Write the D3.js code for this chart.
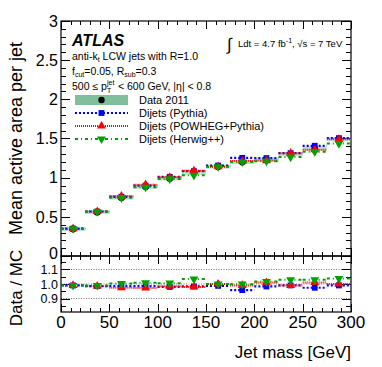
<!DOCTYPE html>
<html>
<head>
<meta charset="utf-8">
<script src="https://cdn.jsdelivr.net/npm/d3@7/dist/d3.min.js"></script>
<style>
  html, body { margin: 0; padding: 0; background: #fff; }
  svg { display: block; font-family: "Liberation Sans", Arial, sans-serif; }
</style>
</head>
<body>
<svg id="chart" width="382" height="367"></svg>
<script>
// bins of jet mass [GeV], 25 GeV wide
const binLow = [0, 25, 50, 75, 100, 125, 150, 175, 200, 225, 250, 275];
const binWidth = 25;

// mean active area per jet
const data2011 = [0.345, 0.56, 0.745, 0.885, 0.99, 1.065, 1.14, 1.20, 1.23, 1.30, 1.37, 1.49];
const pythia   = [0.35, 0.568, 0.756, 0.898, 1.01, 1.083, 1.155, 1.253, 1.25, 1.313, 1.407, 1.505];
const powheg   = [0.348, 0.568, 0.765, 0.91, 1.005, 1.088, 1.14, 1.212, 1.218, 1.313, 1.356, 1.49];
const herwig   = [0.348, 0.565, 0.743, 0.878, 0.984, 1.03, 1.14, 1.20, 1.21, 1.263, 1.331, 1.435];

// Data / MC
const ratioPythia = [0.99, 0.985, 0.985, 0.985, 0.98, 0.983, 0.987, 0.958, 0.983, 0.99, 0.974, 0.99];
const ratioPowheg = [0.99, 0.985, 0.974, 0.972, 0.985, 0.979, 1.0, 0.99, 1.01, 0.99, 1.01, 1.0];
const ratioHerwig = [0.99, 0.99, 1.003, 1.008, 1.006, 1.034, 1.0, 0.999, 1.017, 1.029, 1.029, 1.038];

const xTicks = [0, 50, 100, 150, 200, 250, 300];
const yTicks = [0, 0.5, 1, 1.5, 2, 2.5, 3];
const rTicks = [0.9, 1.0, 1.1];

const svg = d3.select("#chart");

const L = 61, R = 351, T = 21, MB = 256, RB = 312;

const x = d3.scaleLinear().domain([0, 300]).range([L, R]);
const y = d3.scaleLinear().domain([0, 3]).range([MB, T]);
const yr = d3.scaleLinear().domain([0.807, 1.193]).range([RB, MB]);

const series = [
  { name: "Dijets (Pythia)", main: pythia, ratio: ratioPythia, color: "#0000ff", dash: "2,2", width: 2.2, symbol: d3.symbolSquare, size: 34, rot: 0 },
  { name: "Dijets (POWHEG+Pythia)", main: powheg, ratio: ratioPowheg, color: "#ff0000", dash: "1,1", width: 2, symbol: d3.symbolTriangle, size: 34, rot: 0 },
  { name: "Dijets (Herwig++)", main: herwig, ratio: ratioHerwig, color: "#00a000", dash: "3,3,1,3", width: 2, symbol: d3.symbolTriangle, size: 34, rot: 180 },
];

const bandColor = "#7fbf9c";

// ---------- frames and ticks ----------
function drawFrame(top, bottom, ys, yTickVals, yMinorStep, labels) {
  const g = svg.append("g");
  g.append("rect").attr("x", L).attr("y", top).attr("width", R - L).attr("height", bottom - top)
    .attr("fill", "none").attr("stroke", "#000").attr("stroke-width", 1.2);

  // x ticks top & bottom
  for (let v = 0; v <= 300; v += 10) {
    const major = v % 50 === 0;
    const len = major ? 8 : 4;
    const px = Math.round(x(v)) + 0.5;
    g.append("line").attr("x1", px).attr("x2", px).attr("y1", bottom).attr("y2", bottom - len).attr("stroke", "#000");
    g.append("line").attr("x1", px).attr("x2", px).attr("y1", top).attr("y2", top + len).attr("stroke", "#000");
  }
  // y ticks left & right
  const [d0, d1] = ys.domain();
  const start = Math.ceil(d0 / yMinorStep - 1e-6) * yMinorStep;
  for (let v = start; v <= d1 + 1e-9; v += yMinorStep) {
    const major = yTickVals.some(t => Math.abs(t - v) < 1e-6);
    const len = major ? 9 : 5;
    const py = Math.round(ys(v)) + 0.5;
    g.append("line").attr("x1", L).attr("x2", L + len).attr("y1", py).attr("y2", py).attr("stroke", "#000");
    g.append("line").attr("x1", R).attr("x2", R - len).attr("y1", py).attr("y2", py).attr("stroke", "#000");
  }
  g.selectAll("text.ylab").data(yTickVals).join("text")
    .attr("x", L - 3).attr("y", d => ys(d))
    .attr("dy", d => (labels.lowNudge && d === yTickVals[0]) ? "0.2em" : "0.36em")
    .attr("text-anchor", "end")
    .attr("font-size", labels.size)
    .text(labels.fmt);
  return g;
}

drawFrame(T, MB, y, yTicks, 0.1, { size: 16, lowNudge: true, fmt: d => d3.format("~g")(d) });

// ratio reference lines
svg.append("g").selectAll("line").data(rTicks).join("line")
  .attr("x1", L).attr("x2", R)
  .attr("y1", d => yr(d)).attr("y2", d => yr(d))
  .attr("stroke", "#777").attr("stroke-width", 1).attr("stroke-dasharray", "1,1.5");

drawFrame(MB, RB, yr, rTicks, 0.05, { size: 12.5, fmt: d => d3.format(".1f")(d) });

// x tick labels
svg.append("g").selectAll("text").data(xTicks).join("text")
  .attr("x", d => x(d)).attr("y", 328)
  .attr("text-anchor", "middle").attr("font-size", 17)
  .text(d => d);

// ---------- main panel ----------
const bins = binLow.map((lo, i) => ({ i, lo, hi: lo + binWidth, mid: lo + binWidth / 2 }));

// data systematic band + points
svg.append("g").selectAll("rect").data(bins).join("rect")
  .attr("x", d => x(d.lo)).attr("width", d => x(d.hi) - x(d.lo))
  .attr("y", d => y(data2011[d.i]) - 2).attr("height", 4)
  .attr("fill", bandColor).attr("opacity", 0.5);
svg.append("g").selectAll("circle").data(bins).join("circle")
  .attr("cx", d => x(d.mid)).attr("cy", d => y(data2011[d.i])).attr("r", 3.4).attr("fill", "#000");

function drawSeries(ys, key) {
  series.forEach(s => {
    const vals = s[key];
    const g = svg.append("g");
    g.selectAll("line").data(bins).join("line")
      .attr("x1", d => x(d.lo)).attr("x2", d => x(d.hi))
      .attr("y1", d => ys(vals[d.i])).attr("y2", d => ys(vals[d.i]))
      .attr("stroke", s.color).attr("stroke-width", s.width).attr("stroke-dasharray", s.dash);
    g.selectAll("path").data(bins).join("path")
      .attr("d", d3.symbol().type(s.symbol).size(s.size))
      .attr("transform", d => `translate(${x(d.mid)},${ys(vals[d.i])}) rotate(${s.rot})`)
      .attr("fill", s.color);
  });
}
drawSeries(y, "main");

// ---------- ratio panel ----------
drawSeries(yr, "ratio");

// ---------- labels ----------
svg.append("text").attr("transform", `translate(22,${(T + MB) / 2}) rotate(-90)`)
  .attr("text-anchor", "middle").attr("font-size", 18).text("Mean active area per jet");
svg.append("text").attr("transform", `translate(22,${(MB + RB) / 2 + 4}) rotate(-90)`)
  .attr("text-anchor", "middle").attr("font-size", 17).text("Data / MC");
svg.append("text").attr("x", R).attr("y", 358).attr("text-anchor", "end")
  .attr("font-size", 17).text("Jet mass [GeV]");

// ATLAS & annotations
const ann = svg.append("g").attr("font-size", 10.5);
ann.append("text").attr("x", 72).attr("y", 46).attr("font-size", 16)
  .attr("font-weight", "bold").attr("font-style", "italic").text("ATLAS");
const t1 = ann.append("text").attr("x", 72).attr("y", 60);
t1.append("tspan").text("anti-k");
t1.append("tspan").attr("font-size", 7).attr("dy", 2).text("t");
t1.append("tspan").attr("dy", -2).text(" LCW jets with R=1.0");
const t2 = ann.append("text").attr("x", 72).attr("y", 75);
t2.append("tspan").text("f");
t2.append("tspan").attr("font-size", 7).attr("dy", 2).text("cut");
t2.append("tspan").attr("dy", -2).text("=0.05, R");
t2.append("tspan").attr("font-size", 7).attr("dy", 2).text("sub");
t2.append("tspan").attr("dy", -2).text("=0.3");

// 500 <= pT^jet < 600 GeV line, sup/sub stacked
const t3a = ann.append("text").attr("x", 72).attr("y", 90).text("500 \u2264 p");
const w3 = t3a.node().getComputedTextLength();
ann.append("text").attr("x", 72 + w3).attr("y", 85).attr("font-size", 7).text("jet");
ann.append("text").attr("x", 72 + w3).attr("y", 93).attr("font-size", 7).text("T");
ann.append("text").attr("x", 72 + w3 + 11).attr("y", 90).text("< 600 GeV, |\u03b7| < 0.8");

const lumi = svg.append("g").attr("font-size", 9.5);
lumi.append("text").attr("x", 227).attr("y", 50).attr("font-size", 17).text("\u222b");
const lt = lumi.append("text").attr("x", 238).attr("y", 47);
lt.append("tspan").text("Ldt = 4.7 fb");
lt.append("tspan").attr("font-size", 7).attr("dy", -4).text("-1");
lt.append("tspan").attr("dy", 4).text(", \u221as = 7 TeV");

// legend
const legY = [100, 113, 126, 139];
const lx0 = 75, lx1 = 128;
const leg = svg.append("g").attr("font-size", 11);
leg.append("rect").attr("x", lx0).attr("y", legY[0] - 5).attr("width", lx1 - lx0).attr("height", 10).attr("fill", bandColor);
leg.append("circle").attr("cx", (lx0 + lx1) / 2).attr("cy", legY[0]).attr("r", 3.2).attr("fill", "#000");
leg.append("text").attr("x", 139).attr("y", legY[0]).attr("dy", "0.35em").text("Data 2011");
series.forEach((s, k) => {
  const yy = legY[k + 1];
  leg.append("line").attr("x1", lx0).attr("x2", lx1).attr("y1", yy).attr("y2", yy)
    .attr("stroke", s.color).attr("stroke-width", s.width).attr("stroke-dasharray", s.dash);
  leg.append("path").attr("d", d3.symbol().type(s.symbol).size(s.size)())
    .attr("transform", `translate(${(lx0 + lx1) / 2},${yy}) rotate(${s.rot})`).attr("fill", s.color);
  leg.append("text").attr("x", 139).attr("y", yy).attr("dy", "0.35em").text(s.name);
});
</script>
</body>
</html>
